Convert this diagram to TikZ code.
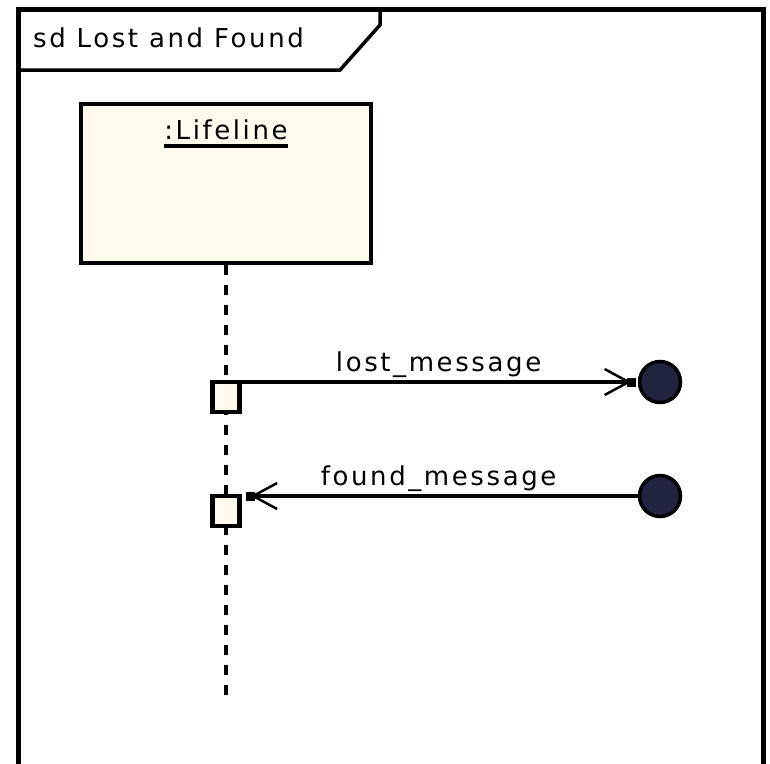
\documentclass[tikz,border=0pt]{standalone}
\usepackage{fontspec}
\newfontfamily\umlfont[LetterSpace=10]{DejaVu Sans}
\usetikzlibrary{arrows.meta, positioning}
\definecolor{lifefill}{HTML}{FFF9EE}
\definecolor{endfill}{HTML}{21243F}
% underlined lifeline name, thick rule as in the tool output
\newcommand{\ulname}[1]{\setbox0\hbox{#1}\rlap{\usebox0}\rule[-8pt]{\wd0}{4pt}}

\begin{document}
\begin{tikzpicture}[
    x=1pt, y=-1pt,
    font=\umlfont\fontsize{26}{30}\selectfont,
    framebox/.style={draw=black, line width=5pt},
    titlebox/.style={draw=black, line width=3.5pt},
    headbox/.style={rectangle, draw=black, fill=lifefill, line width=4.5pt, minimum width=290pt, minimum height=159pt, inner sep=0pt},
    actbox/.style={rectangle, draw=black, fill=lifefill, line width=4.5pt, minimum width=27pt, minimum height=30pt, inner sep=0pt, outer sep=0pt},
    endpt/.style={circle, draw=black, fill=endfill, line width=3.5pt, minimum size=41pt, inner sep=0pt},
    lifeline/.style={draw=black, line width=3.5pt, dash pattern=on 10pt off 10pt},
    msg/.style={draw=black, line width=4pt, -{Straight Barb[length=24pt,width=26pt,line width=2.5pt,sep=-4pt] Square[length=9pt,width=9pt,sep=-4pt]}},
    msglbl/.style={above=2pt, inner sep=0pt}
]
    \useasboundingbox (0,0) rectangle (770,763);

    % Frame
    \draw [framebox] (18,775) -- (18,9) -- (763,9) -- (763,775);
    \node [anchor=base west, inner sep=0pt] (title) at (33,47) {sd Lost and Found};
    \draw [titlebox] (18,70) -- (340,70) -- (380,25) -- (380,9);

    % Lifeline
    \node [headbox] (head) at (226,183.5) {};
    \node [below=18pt of head.north, inner sep=0pt] (headlbl) {\ulname{:Lifeline}};
    \coordinate (lifeend) at (226,702);
    \draw [lifeline] (head.south) -- (lifeend);

    \node [actbox] (act1) at (226,397) {};
    \node [actbox] (act2) at (226,511) {};

    % Lost / found ends
    \node [endpt] (lostend) at (660,382) {};
    \node [endpt] (foundstart) at (660,496) {};

    \draw [msg, shorten >=5.5pt] (act1.north east) -- node[msglbl] {lost\_message} (lostend.west);
    \draw [msg, shorten >=10pt] (foundstart.west) -- node[msglbl] {found\_message} (act2.north east);

\end{tikzpicture}
\end{document}
